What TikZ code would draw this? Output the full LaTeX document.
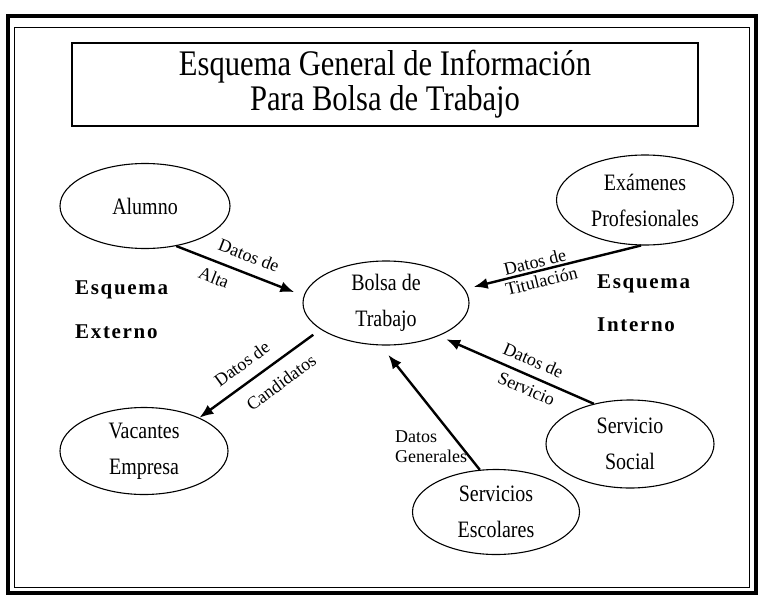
\documentclass[tikz,border=0pt]{standalone}
\usepackage{fontspec}
\setmainfont{Liberation Serif}[FakeStretch=0.85]
\newfontfamily\labfont{Liberation Serif}
\newfontfamily\esqfont{Liberation Serif}[LetterSpace=8]
\usetikzlibrary{shapes.geometric,arrows.meta}

\begin{document}
\begin{tikzpicture}[x=1pt,y=-1pt,
  ov/.style={ellipse,draw,line width=1.1pt,inner sep=0pt,align=center,font=\fontsize{23.5}{36}\selectfont},
  a/.style={line width=2.4pt,-{Latex[length=14pt,width=11pt]}},
  lab/.style={font=\labfont\fontsize{18}{20}\selectfont,inner sep=1pt},
  esq/.style={font=\esqfont\bfseries\fontsize{21}{21}\selectfont,inner sep=0pt,anchor=base west}]
  \useasboundingbox (0,0) rectangle (759,596);
  % double frame round the sheet
  \draw[line width=4pt] (7.5,16) rectangle (756,593);
  \draw[line width=1pt] (14,28) rectangle (749,587);
  % title
  \node[draw,line width=1.1pt,minimum width=626pt,minimum height=83pt,align=center,
    font=\fontsize{36}{35}\selectfont] (title) at (385,84.5)
    {Esquema General de Información\\Para Bolsa de Trabajo};
  % the six entities
  \foreach \name/\xx/\yy/\w/\h/\txt in {alumno/145/206/170/85/{Alumno},
      exam/645/200/177/90/{Exámenes\\Profesionales},
      bolsa/386/303/166/84/{Bolsa de\\Trabajo},
      vac/144/451/168/87/{Vacantes\\Empresa},
      social/630/444/168/88/{Servicio\\Social},
      escol/496/512/167/85/{Servicios\\Escolares}}
    \node[ov,minimum width=\w pt,minimum height=\h pt] (\name) at (\xx,\yy) {\txt};
  % data flows; external side on the left, internal on the right
  \draw[a,shorten >=10pt] (alumno.-52) -- (bolsa.175)
    node[lab,sloped,pos=0.52,above=9pt] {Datos de}
    node[lab,sloped,pos=0.34,below=7pt] {Alta};
  \draw[a,shorten <=9pt] (bolsa.-158) -- (vac.31)
    node[lab,sloped,pos=0.56,above=10pt] {Datos de}
    node[lab,sloped,pos=0.42,below=11pt] {Candidatos};
  \draw[a,shorten >=9pt] (exam.-95) -- (bolsa.10)
    node[lab,sloped,pos=0.59,above=1pt] {Datos de}
    node[lab,sloped,pos=0.58,below=2pt] {Titulación};
  \draw[a,shorten >=8pt] (social.132) -- (bolsa.-32)
    node[lab,sloped,pos=0.43,above=7pt] {Datos de}
    node[lab,sloped,pos=0.40,below=5pt] {Servicio};
  \draw[a,shorten >=12pt] (escol.111) -- (bolsa.-97);
  \node[lab,align=left,anchor=north west,inner sep=0pt] (gen) at (395,431) {Datos\\Generales};
  % side captions
  \node[esq] (extA) at (75,294) {Esquema};
  \node[esq] (extB) at (75,338) {Externo};
  \node[esq] (intA) at (597,288) {Esquema};
  \node[esq] (intB) at (597,331) {Interno};
\end{tikzpicture}
\end{document}
